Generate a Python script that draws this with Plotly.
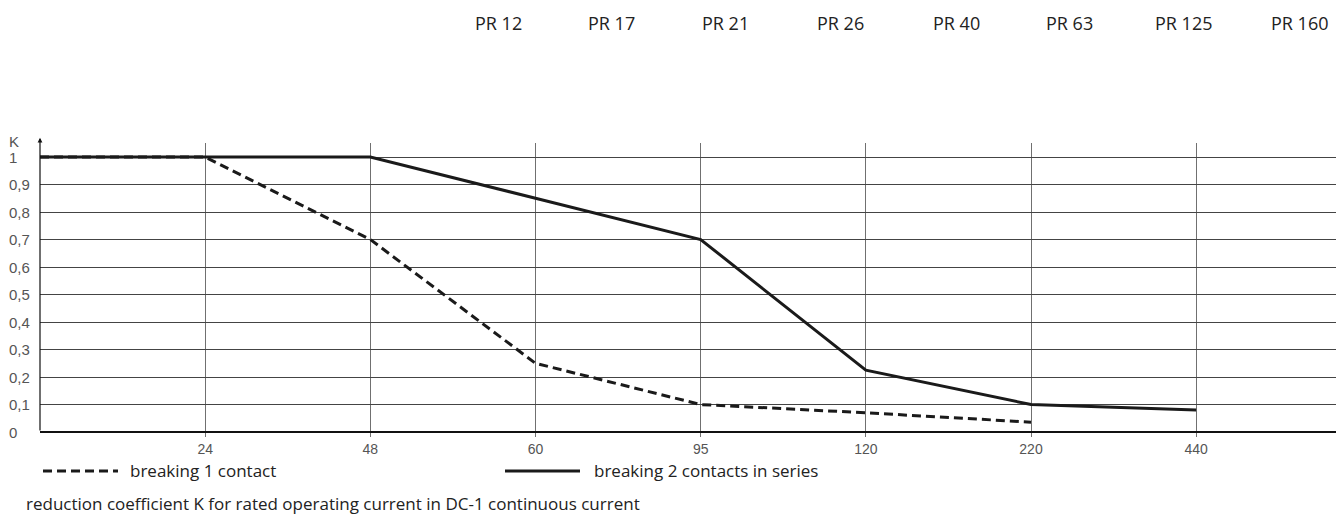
import plotly.graph_objects as go

# rated voltages along the x axis (category positions 1..7, origin at 0)
voltage_labels = ["24", "48", "60", "95", "120", "220", "440"]
voltage_pos = [1, 2, 3, 4, 5, 6, 7]

# reduction coefficient K
one_contact_pos = [0, 1, 2, 3, 4, 5, 6]
one_contact_k = [1.0, 1.0, 0.7, 0.25, 0.1, 0.07, 0.036]
two_contacts_pos = [0, 1, 2, 3, 4, 5, 6, 7]
two_contacts_k = [1.0, 1.0, 1.0, 0.85, 0.7, 0.225, 0.1, 0.08]

k_ticks = [0, 0.1, 0.2, 0.3, 0.4, 0.5, 0.6, 0.7, 0.8, 0.9, 1]
k_labels = ["0", "0,1", "0,2", "0,3", "0,4", "0,5", "0,6", "0,7", "0,8", "0,9", "1"]

products = ["PR 12", "PR 17", "PR 21", "PR 26", "PR 40", "PR 63", "PR 125", "PR 160"]

TEXT_FONT = "Open Sans, Noto Sans, sans-serif"
TICK_FONT = "Liberation Sans, Arial, sans-serif"
INK = "#1a1a1a"

PAGE = 8  # body margin of the html page
W, H = 1344 - PAGE, 516 - PAGE
L, R, T, B = 32, 0, 135, 79
PW, PH = W - L - R, H - T - B


def px(screen_x):
    return (screen_x - PAGE - L) / PW


def py(screen_y):
    return 1 - (screen_y - PAGE - T) / PH


fig = go.Figure()
fig.add_trace(go.Scatter(
    x=one_contact_pos, y=one_contact_k, mode="lines",
    line=dict(color=INK, width=3, dash="9px,5px"), name="breaking 1 contact",
))
fig.add_trace(go.Scatter(
    x=two_contacts_pos, y=two_contacts_k, mode="lines",
    line=dict(color=INK, width=3), name="breaking 2 contacts in series",
))

fig.update_xaxes(
    range=[0, 7.895], tickvals=voltage_pos, ticktext=voltage_labels,
    showgrid=True, gridcolor="#707070", gridwidth=1, zeroline=False,
    ticks="", tickfont=dict(family=TICK_FONT, size=14, color="#555"),
    ticklabelstandoff=2, showline=False, fixedrange=True,
)
fig.update_yaxes(
    range=[-0.018, 1.051], tickvals=k_ticks[1:], showticklabels=False,
    showgrid=True, gridcolor="#444", gridwidth=1,
    zeroline=True, zerolinecolor="#111", zerolinewidth=1.5,
    showline=False, fixedrange=True,
)

# y axis with arrow
fig.add_annotation(
    x=0, y=1.07, ax=0, ay=0, xref="x", yref="y", axref="x", ayref="y",
    showarrow=True, arrowhead=2, arrowsize=0.8, arrowwidth=1.2, arrowcolor="#111", text="",
)

# y tick labels, left aligned
for val, lab in zip(k_ticks, k_labels):
    fig.add_annotation(
        x=px(7), y=val, xref="paper", yref="y", text=lab, showarrow=False,
        xanchor="left", yanchor="middle",
        font=dict(family=TICK_FONT, size=15, color="#555"),
    )
fig.add_annotation(
    x=px(7), y=py(141), xref="paper", yref="paper", text="K", showarrow=False,
    xanchor="left", yanchor="middle", font=dict(family=TICK_FONT, size=15, color="#555"),
)

# product header
product_x = [498, 611, 725, 841, 956, 1069, 1184, 1300]
for name, sx in zip(products, product_x):
    fig.add_annotation(
        x=px(sx), y=py(23), xref="paper", yref="paper", text=name, showarrow=False,
        xanchor="center", yanchor="middle",
        font=dict(family=TEXT_FONT, size=18, color="#222"),
    )

# legend drawn by hand
legend_items = [
    (43, 118, "9px,5px", "breaking 1 contact", 128),
    (505, 580, "solid", "breaking 2 contacts in series", 592),
]
for x0, x1, dash, label, tx in legend_items:
    fig.add_shape(
        type="line", xref="paper", yref="paper", x0=px(x0), x1=px(x1), y0=py(471), y1=py(471),
        line=dict(color=INK, width=3, dash=dash),
    )
    fig.add_annotation(
        x=px(tx), y=py(470), xref="paper", yref="paper", text=label, showarrow=False,
        xanchor="left", yanchor="middle", font=dict(family=TEXT_FONT, size=17, color="#222"),
    )

fig.add_annotation(
    x=px(24), y=py(503), xref="paper", yref="paper",
    text="reduction coefficient K for rated operating current in DC-1 continuous current",
    showarrow=False, xanchor="left", yanchor="middle",
    font=dict(family=TEXT_FONT, size=17, color="#222"),
)

fig.update_layout(
    width=W, height=H, margin=dict(l=L, r=R, t=T, b=B),
    paper_bgcolor="white", plot_bgcolor="white", showlegend=False,
)

fig.write_html("out.html")
